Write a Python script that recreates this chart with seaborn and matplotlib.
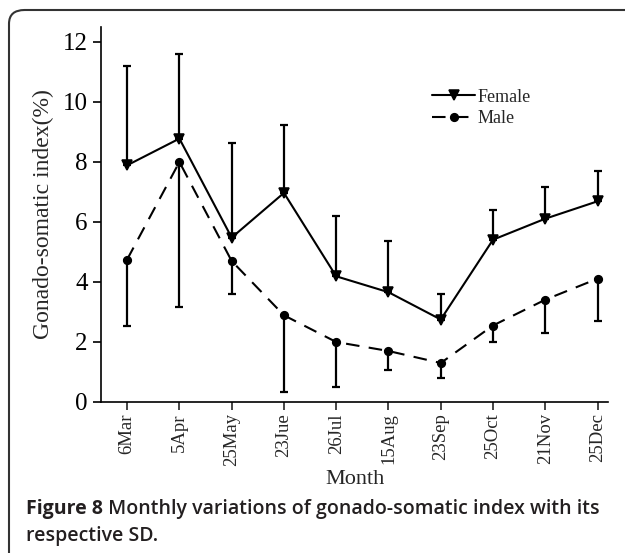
import matplotlib
matplotlib.use('Agg')
import matplotlib.pyplot as plt
from matplotlib.patches import FancyBboxPatch
import seaborn as sb
import pandas as pd
import numpy as np

months = ['6Mar', '5Apr', '25May', '23Jue', '26Jul', '15Aug', '23Sep', '25Oct', '21Nov', '25Dec']
female_mean = [7.89, 8.78, 5.48, 6.97, 4.19, 3.66, 2.75, 5.41, 6.11, 6.69]
female_sd = [3.30, 2.83, 3.17, 2.28, 2.00, 1.71, 0.84, 1.00, 1.06, 1.01]
male_mean = [4.75, 8.00, 4.70, 2.89, 2.00, 1.70, 1.30, 2.55, 3.41, 4.11]
male_sd = [2.20, 4.83, 1.11, 2.56, 1.50, 0.62, 0.49, 0.56, 1.11, 1.42]

sb.set_style('ticks')
plt.rcParams['font.family'] = ['Liberation Serif', 'DejaVu Serif']

df = pd.DataFrame({'Month': months * 2,
                   'GSI': female_mean + male_mean,
                   'Sex': ['Female'] * len(months) + ['Male'] * len(months)})

fig = plt.figure(figsize=(6.25, 5.53), dpi=100)
ax = fig.add_axes([101 / 625, 151 / 553, 507 / 625, 375 / 553])

sb.pointplot(data=df, x='Month', y='GSI', hue='Sex', palette=['black', 'black'],
             markers=['v', 'o'], linestyles=['-', '--'], errorbar=None,
             legend=False, ax=ax, markersize=5.5, linewidth=1.5)

lines = ax.get_lines()
lines[0].set_markersize(7)
lines[1].set_dashes([6.5, 4.5])

xs = np.arange(len(months))
ax.errorbar(xs, female_mean, yerr=[np.zeros(len(months)), female_sd], fmt='none',
            ecolor='black', elinewidth=1.6, capsize=3, capthick=1.6)
ax.errorbar(xs, male_mean, yerr=[male_sd, np.zeros(len(months))], fmt='none',
            ecolor='black', elinewidth=1.6, capsize=3, capthick=1.6)

ax.legend([lines[0], lines[1]], ['Female', 'Male'], frameon=False, fontsize=13,
          loc='upper left', bbox_to_anchor=(0.635, 0.86), handlelength=2.4,
          handletextpad=0.1, labelspacing=0.25, borderpad=0)

ax.set_xlim(-0.5, 9.2)
ax.set_ylim(0, 12.5)
ax.set_yticks([0, 2, 4, 6, 8, 10, 12])
ax.tick_params(axis='y', labelsize=18, length=6, width=1.2, colors='black')
ax.tick_params(axis='x', labelsize=13.5, length=6, width=1.2, rotation=90, pad=2)
ax.set_xlabel('Month', fontsize=16, labelpad=3)
ax.set_ylabel('Gonado-somatic index(%)', fontsize=17, labelpad=6)
for s in ['left', 'bottom']:
    ax.spines[s].set_linewidth(1.2)
    ax.spines[s].set_color('black')
sb.despine(ax=ax)

# rounded frame around figure
box = FancyBboxPatch((9 / 625, -0.2), 1.2, 1.2 - 10 / 553,
                     boxstyle='round,pad=0,rounding_size=0.025',
                     transform=fig.transFigure, fill=False, edgecolor='#333333',
                     linewidth=1.5, clip_on=False)
fig.patches.append(box)

cap_font = ['Open Sans', 'DejaVu Sans']
t1 = fig.text(26 / 625, 1 - 509 / 553, 'Figure 8', fontsize=14, fontweight='bold',
              family=cap_font, va='center', color='#231f20')
fig.text(26 / 625, 1 - 536 / 553, 'respective SD.', fontsize=14, fontweight='semibold',
         family=cap_font, va='center', color='#231f20')
ax.annotate(' Monthly variations of gonado-somatic index with its', xy=(1, 0.5),
            xycoords=t1, va='center', ha='left', fontsize=14, fontweight='semibold',
            family=cap_font, color='#231f20', annotation_clip=False)

fig.savefig('out.png', dpi=100)
